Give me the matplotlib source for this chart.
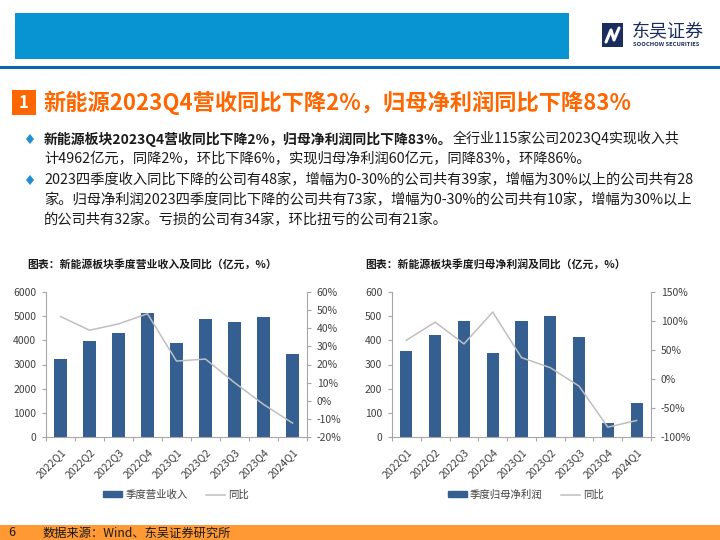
import matplotlib
matplotlib.use('Agg')
import matplotlib.pyplot as plt
from matplotlib.patches import Rectangle, Polygon, Patch
from matplotlib.lines import Line2D
from matplotlib.ticker import FuncFormatter, MultipleLocator, FixedLocator

plt.rcParams['font.family'] = ['Noto Sans CJK SC', 'DejaVu Sans']
plt.rcParams['axes.unicode_minus'] = False

# ---------------- data ----------------
quarters = ['2022Q1', '2022Q2', '2022Q3', '2022Q4', '2023Q1',
            '2023Q2', '2023Q3', '2023Q4', '2024Q1']
revenue = [3215, 3977, 4296, 5127, 3894, 4878, 4739, 4962, 3423]          # 亿元
revenue_yoy = [46.5, 38.9, 42.4, 48.0, 21.9, 23.0, 10.0, -2.0, -12.3]     # %
profit = [356, 424, 482, 348, 482, 500, 414, 60, 140]                    # 亿元
profit_yoy = [66.9, 98.0, 60.5, 115.4, 36.8, 19.5, -12.2, -83.0, -71.6]  # %

title_main = '新能源2023Q4营收同比下降2%，归母净利润同比下降83%'
bullet1_bold = '新能源板块2023Q4营收同比下降2%，归母净利润同比下降83%。'
bullet1_rest = '全行业115家公司2023Q4实现收入共'
bullet_lines = [
    '计4962亿元，同降2%，环比下降6%，实现归母净利润60亿元，同降83%，环降86%。',
    '2023四季度收入同比下降的公司有48家，增幅为0-30%的公司共有39家，增幅为30%以上的公司共有28',
    '家。归母净利润2023四季度同比下降的公司共有73家，增幅为0-30%的公司共有10家，增幅为30%以上',
    '的公司共有32家。亏损的公司有34家，环比扭亏的公司有21家。',
]
chart1_title = '图表：新能源板块季度营业收入及同比（亿元，%）'
chart2_title = '图表：新能源板块季度归母净利润及同比（亿元，%）'
legend1 = ['季度营业收入', '同比']
legend2 = ['季度归母净利润', '同比']
source = '数据来源：Wind、东吴证券研究所'
page_no = '6'

# ---------------- figure ----------------
W, H = 720, 540
fig = plt.figure(figsize=(7.2, 5.4), dpi=100)


def fx(x):
    return x / W


def fy(y):
    return 1 - y / H


def rect(x0, y0, x1, y1, color):
    fig.patches.append(Rectangle((fx(x0), fy(y1)), (x1 - x0) / W, (y1 - y0) / H,
                                 transform=fig.transFigure, color=color, lw=0, zorder=0))


BAR = '#365F91'
LINE = '#BFBFBF'
SPINE = '#A6A6A6'
TXT = '#404040'

# header
rect(15, 13, 569, 59, '#0894D2')
rect(0, 66, 720, 69, '#0C64B4')
# logo
rect(602, 23, 623, 47, '#1B2D5E')
fig.lines.append(Line2D([fx(606), fx(611), fx(614), fx(619)],
                        [fy(42), fy(30), fy(40), fy(28)],
                        transform=fig.transFigure, color='white', lw=2.2,
                        solid_capstyle='round'))
fig.text(fx(632), fy(32), '东吴证券', fontsize=13, color='#1B2D5E', va='center', ha='left')
fig.text(fx(633), fy(45), 'SOOCHOW SECURITIES', fontsize=4.2, color='#1B2D5E',
         va='center', ha='left', fontweight='bold')

# title
rect(12, 90, 36, 115, '#FF6600')
fig.text(fx(24), fy(102.5), '1', fontsize=12, color='white', fontweight='bold',
         ha='center', va='center')
fig.text(fx(43), fy(102.5), title_main, fontsize=16, color='#FF6600',
         fontweight='bold', ha='left', va='center')

# bullets
def diamond(cx, cy):
    fig.patches.append(Polygon([(fx(cx - 4), fy(cy)), (fx(cx), fy(cy - 5)),
                                (fx(cx + 4), fy(cy)), (fx(cx), fy(cy + 5))],
                               closed=True, transform=fig.transFigure,
                               color='#1E8FD5', lw=0))


line_y = [139, 159, 180, 200, 220]
diamond(30, line_y[0])
diamond(30, line_y[2])
t_bold = fig.text(fx(44), fy(line_y[0]), bullet1_bold, fontsize=10.0, color='#1A1A1A',
                  fontweight='bold', ha='left', va='center')
fig.canvas.draw()
r = fig.canvas.get_renderer()
bb = t_bold.get_window_extent(r)
fig.text(bb.x1 / W, fy(line_y[0]), bullet1_rest, fontsize=10.1, color='#1A1A1A',
         ha='left', va='center')
for yy, s in zip(line_y[1:], bullet_lines):
    fig.text(fx(44), fy(yy), s, fontsize=10.3, color='#1A1A1A', ha='left', va='center')

# chart titles
fig.text(fx(27), fy(264), chart1_title, fontsize=7.8, fontweight='bold',
         color='#1A1A1A', ha='left', va='center')
fig.text(fx(365), fy(264), chart2_title, fontsize=7.8, fontweight='bold',
         color='#1A1A1A', ha='left', va='center')


def make_chart(left_px, right_px, bars, yoy, ylim, yl_step, rlim, r_step, labels, leg_cx):
    ax = fig.add_axes([fx(left_px), fy(437), (right_px - left_px) / W, (437 - 292) / H])
    x = list(range(len(quarters)))
    ax.bar(x, bars, width=0.42, color=BAR, zorder=2)
    ax.set_xlim(-0.5, len(quarters) - 0.5)
    ax.set_ylim(*ylim)
    ax.yaxis.set_major_locator(MultipleLocator(yl_step))
    axr = ax.twinx()
    axr.plot(x, yoy, color=LINE, lw=1.1, zorder=3)
    axr.set_ylim(*rlim)
    axr.yaxis.set_major_locator(MultipleLocator(r_step))
    axr.yaxis.set_major_formatter(FuncFormatter(lambda v, p: f'{v:.0f}%'))
    for a in (ax, axr):
        a.spines['top'].set_visible(False)
        for s in ('left', 'right', 'bottom'):
            a.spines[s].set_color(SPINE)
            a.spines[s].set_linewidth(0.8)
    ax.spines['right'].set_visible(False)
    axr.spines['left'].set_visible(False)
    axr.spines['bottom'].set_visible(False)
    ax.tick_params(axis='y', direction='out', length=3, color=SPINE, width=0.8,
                   labelsize=7.5, labelcolor=TXT, pad=4)
    axr.tick_params(axis='y', direction='out', length=3, color=SPINE, width=0.8,
                    labelsize=7.5, labelcolor=TXT, pad=4)
    ax.set_xticks(x)
    ax.set_xticklabels(quarters, rotation=45, ha='right', rotation_mode='anchor',
                       fontsize=7.5, color=TXT)
    ax.tick_params(axis='x', which='major', length=0, pad=7)
    ax.xaxis.set_minor_locator(FixedLocator([i - 0.5 for i in range(len(quarters) + 1)]))
    ax.tick_params(axis='x', which='minor', direction='out', length=3, color=SPINE, width=0.8)
    handles = [Patch(color=BAR), Line2D([0], [0], color=LINE, lw=1.1)]
    ax.legend(handles, labels, loc='center', bbox_to_anchor=(fx(leg_cx), fy(495)),
              bbox_transform=fig.transFigure, ncol=2, frameon=False, fontsize=7.5,
              handlelength=1.8, handleheight=0.5, columnspacing=1.8, handletextpad=0.3,
              labelcolor=TXT)
    return ax, axr


make_chart(46, 307, revenue, revenue_yoy, (0, 6000), 1000, (-20, 60), 10, legend1, 176)
make_chart(392, 651, profit, profit_yoy, (0, 600), 100, (-100, 150), 50, legend2, 526)

# footer
rect(0, 525, 720, 540, '#FF9933')
fig.text(fx(8), fy(533), page_no, fontsize=9, color='#1A1A1A', ha='left', va='center')
fig.text(fx(43), fy(533), source, fontsize=8.8, color='#1A1A1A', ha='left', va='center')

fig.savefig('out.png', dpi=100)
